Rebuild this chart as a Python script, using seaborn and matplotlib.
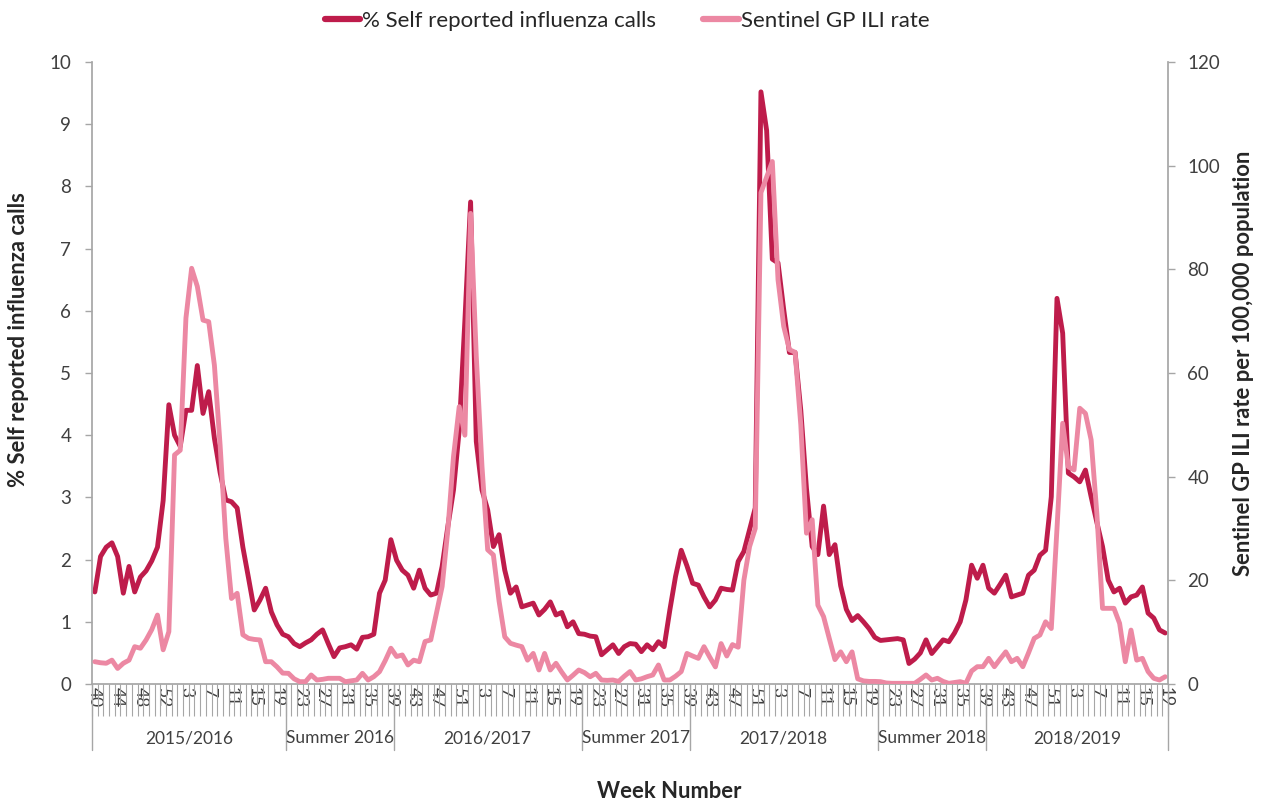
import numpy as np
import pandas as pd
import matplotlib
matplotlib.use("Agg")
import matplotlib.pyplot as plt
import matplotlib.transforms as mtransforms
from matplotlib.lines import Line2D
import seaborn as sns

# ---------------- data ----------------
# calendar segments (year, first week, last week)
year_weeks = [(2015, 40, 53), (2016, 1, 52), (2017, 1, 52), (2018, 1, 52), (2019, 1, 19)]
week_numbers = [w for (_, a, b) in year_weeks for w in range(a, b + 1)]

period_names = ["2015/2016", "Summer 2016", "2016/2017", "Summer 2017",
                "2017/2018", "Summer 2018", "2018/2019"]

# % self reported influenza calls (left axis)
calls_2015_16 = [1.48, 2.05, 2.2, 2.27, 2.05, 1.46, 1.89, 1.48, 1.72, 1.82, 1.98, 2.2, 2.95, 4.49,
                 4.0, 3.82, 4.4, 4.4, 5.12, 4.35, 4.7, 3.95, 3.4, 2.96, 2.93, 2.83, 2.2, 1.7, 1.19,
                 1.35, 1.54, 1.16, 0.95, 0.8]
calls_summer_2016 = [0.76, 0.65, 0.6, 0.66, 0.71, 0.8, 0.87, 0.65, 0.44, 0.58, 0.6, 0.63, 0.56,
                     0.75, 0.76, 0.8, 1.46, 1.67, 2.32]
calls_2016_17 = [1.99, 1.83, 1.75, 1.54, 1.83, 1.54, 1.43, 1.46, 1.89, 2.53, 3.12, 4.08, 5.85, 7.75,
                 3.9, 3.12, 2.8, 2.21, 2.4, 1.83, 1.46, 1.56, 1.24, 1.27, 1.3, 1.11, 1.2, 1.32,
                 1.11, 1.15, 0.92, 1.0, 0.81]
calls_summer_2017 = [0.8, 0.77, 0.76, 0.47, 0.55, 0.63, 0.49, 0.6, 0.65, 0.64, 0.52, 0.63, 0.55,
                     0.68, 0.6, 1.19, 1.73, 2.15, 1.9]
calls_2017_18 = [1.62, 1.59, 1.4, 1.24, 1.35, 1.54, 1.52, 1.51, 1.97, 2.13, 2.48, 2.83, 9.52, 8.9,
                 6.83, 6.77, 6.02, 5.33, 5.33, 4.4, 3.14, 2.21, 2.08, 2.86, 2.08, 2.24, 1.58, 1.2,
                 1.02, 1.1, 1.0, 0.89, 0.75]
calls_summer_2018 = [0.7, 0.71, 0.72, 0.73, 0.71, 0.33, 0.4, 0.5, 0.71, 0.49, 0.6, 0.71, 0.68,
                     0.82, 1.0, 1.35, 1.91, 1.7, 1.91]
calls_2018_19 = [1.54, 1.46, 1.6, 1.75, 1.4, 1.43, 1.46, 1.75, 1.83, 2.07, 2.15, 3.01, 6.2, 5.64,
                 3.39, 3.33, 3.25, 3.44, 3.01, 2.6, 2.21, 1.67, 1.48, 1.54, 1.3, 1.4, 1.43, 1.56,
                 1.14, 1.06, 0.87, 0.82]

# Sentinel GP ILI rate per 100,000 (right axis)
ili_2015_16 = [4.3, 4.1, 4.0, 4.6, 3.0, 4.0, 4.6, 7.2, 6.9, 8.5, 10.5, 13.3, 6.6, 10.1, 44.2, 45.1,
               70.6, 80.2, 76.7, 70.2, 69.9, 61.5, 46.1, 28.1, 16.5, 17.5, 9.5, 8.8, 8.6, 8.5, 4.3,
               4.3, 3.3, 2.1]
ili_summer_2016 = [2.06, 1.0, 0.45, 0.45, 1.74, 0.77, 0.9, 1.1, 1.1, 1.1, 0.45, 0.6, 0.77, 2.06,
                   0.77, 1.41, 2.38, 4.5, 6.9]
ili_2016_17 = [5.3, 5.6, 3.67, 4.6, 4.3, 8.2, 8.5, 13.6, 18.8, 29.7, 43.9, 53.5, 48.0, 90.8, 63.2,
               42.0, 25.9, 24.9, 16.0, 9.1, 7.85, 7.5, 7.2, 4.6, 5.9, 2.7, 5.9, 2.7, 4.0, 2.3,
               0.77, 1.7, 2.7]
ili_summer_2017 = [2.2, 1.4, 2.06, 0.77, 0.7, 0.77, 0.5, 1.5, 2.4, 0.77, 1.0, 1.41, 1.74, 3.67,
                   0.77, 0.77, 1.5, 2.4, 5.9]
ili_2017_18 = [5.4, 4.95, 7.2, 5.2, 3.3, 7.8, 5.4, 7.6, 7.1, 20.0, 26.5, 30.0, 94.8, 97.8, 100.8,
               78.0, 69.0, 64.5, 64.0, 50.0, 29.1, 31.7, 15.2, 13.0, 8.8, 4.7, 6.2, 4.3, 6.2, 1.0,
               0.6, 0.5, 0.5]
ili_summer_2018 = [0.45, 0.2, 0.13, 0.13, 0.13, 0.13, 0.13, 0.9, 1.74, 0.77, 1.1, 0.5, 0.13, 0.3,
                   0.45, 0.13, 2.5, 3.34, 3.34]
ili_2018_19 = [4.95, 3.34, 4.8, 6.2, 4.3, 4.95, 3.34, 6.0, 8.8, 9.45, 12.0, 10.7, 30.0, 50.3,
               41.9, 41.3, 53.2, 52.2, 47.1, 32.9, 14.6, 14.6, 14.6, 11.7, 4.3, 10.4, 4.6, 4.95,
               2.4, 1.1, 0.77, 1.4]

calls_periods = [calls_2015_16, calls_summer_2016, calls_2016_17, calls_summer_2017,
                 calls_2017_18, calls_summer_2018, calls_2018_19]
ili_periods = [ili_2015_16, ili_summer_2016, ili_2016_17, ili_summer_2017,
               ili_2017_18, ili_summer_2018, ili_2018_19]

calls = [v for p in calls_periods for v in p]
ili = [v for p in ili_periods for v in p]
period_lengths = [len(p) for p in calls_periods]

df = pd.DataFrame({"idx": np.arange(len(calls)), "week": week_numbers,
                   "calls": calls, "ili": ili})

# ---------------- style ----------------
sns.set_theme(style="white")
plt.rcParams["font.family"] = ["Lato", "DejaVu Sans"]

DARK = "#BE1C4B"
PINK = "#EC88A3"
GREY = "#A6A6A6"
TXT = "#404040"

W, H = 1264, 802
fig = plt.figure(figsize=(W / 100, H / 100), dpi=100)
ax = fig.add_axes([92 / W, 1 - 684 / H, 1076 / W, 622 / H])
ax2 = ax.twinx()

sns.lineplot(data=df, x="idx", y="calls", ax=ax, color=DARK, linewidth=3.5,
             solid_capstyle="round", solid_joinstyle="round", legend=False)
sns.lineplot(data=df, x="idx", y="ili", ax=ax2, color=PINK, linewidth=3.5,
             solid_capstyle="round", solid_joinstyle="round", legend=False)

n = len(calls)
ax.set_xlim(-0.5, n - 0.5)
ax.set_ylim(0, 10)
ax2.set_ylim(0, 120)
ax.set_xlabel("")
ax.set_ylabel("")
ax2.set_ylabel("")

ax.set_yticks(range(0, 11))
ax2.set_yticks(range(0, 121, 20))
ax.tick_params(axis="y", length=5, width=1, color=GREY, direction="out", pad=10,
               labelsize=13.5, labelcolor=TXT, left=True)
ax2.tick_params(axis="y", length=5, width=1, color=GREY, direction="out", pad=9,
                labelsize=13.5, labelcolor=TXT, right=True)

# x axis: week numbers every 4 categories, tick marks between categories
major = list(range(0, n, 4))
ax.set_xticks(major)
ax.set_xticklabels([str(week_numbers[i]) for i in major], rotation=-90,
                   fontsize=12.5, color=TXT)
ax.set_xticks(np.arange(-0.5, n, 1), minor=True)
ax.tick_params(axis="x", which="major", length=0, pad=2, bottom=True)
ax.tick_params(axis="x", which="minor", length=23, width=0.8, color=GREY,
               direction="out", bottom=True)

for a in (ax, ax2):
    for s in a.spines.values():
        s.set_visible(False)
ax.spines["left"].set_visible(True)
ax.spines["left"].set_color(GREY)
ax.spines["bottom"].set_visible(True)
ax.spines["bottom"].set_color(GREY)
ax2.spines["right"].set_visible(True)
ax2.spines["right"].set_color(GREY)
ax.grid(False)
ax2.grid(False)

# period separators and labels
trans = mtransforms.blended_transform_factory(ax.transData, ax.transAxes)
drop = 66 / 622
bounds = np.concatenate([[0], np.cumsum(period_lengths)]) - 0.5
for b in bounds:
    ax.plot([b, b], [0, -drop], transform=trans, color=GREY, lw=1, clip_on=False)
for name, a0, a1 in zip(period_names, bounds[:-1], bounds[1:]):
    ax.text((a0 + a1) / 2, -54 / 622, name, transform=trans, ha="center", va="center",
            fontsize=12.5, color=TXT)

# axis titles
fig.text(19 / W, 1 - 340 / H, "% Self reported influenza calls", rotation=90,
         ha="center", va="center", fontsize=15.8, fontweight="bold", color="#262626")
fig.text(1243 / W, 1 - 363 / H, "Sentinel GP ILI rate per 100,000 population", rotation=90,
         ha="center", va="center", fontsize=15.8, fontweight="bold", color="#262626")
fig.text(669 / W, 1 - 792 / H, "Week Number", ha="center", va="center",
         fontsize=15.8, fontweight="bold", color="#262626")

handles = [Line2D([0], [0], color=DARK, lw=4.5), Line2D([0], [0], color=PINK, lw=4.5)]
fig.legend(handles, ["% Self reported influenza calls", "Sentinel GP ILI rate"],
           loc="center", bbox_to_anchor=(627 / W, 1 - 21 / H), ncol=2, frameon=False,
           handlelength=1.6, handletextpad=0.1, columnspacing=2.1, fontsize=16,
           labelcolor="#262626")

fig.savefig("out.png", dpi=100, facecolor="white")
